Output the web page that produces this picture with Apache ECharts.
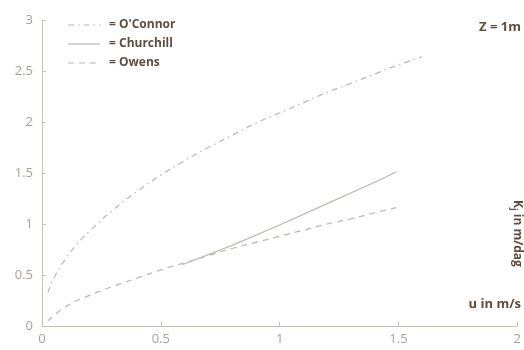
<!DOCTYPE html>
<html>
<head>
<meta charset="utf-8">
<script src="https://cdn.jsdelivr.net/npm/echarts@6/dist/echarts.min.js"></script>
<style>
  html, body { margin: 0; padding: 0; background: #fff; }
  #chart { width: 524px; height: 350px; }
</style>
</head>
<body>
<div id="chart"></div>
<script>
// Flow velocity u (m/s) against reaeration coefficient Kj (m/dag), depth Z = 1 m
const oconnorU = [0.025, 0.05, 0.1, 0.15, 0.2, 0.3, 0.4, 0.5, 0.6, 0.7, 0.8, 0.9, 1.0, 1.1, 1.2, 1.3, 1.4, 1.5, 1.6];
const oconnorK = [0.33, 0.47, 0.66, 0.81, 0.93, 1.14, 1.32, 1.48, 1.62, 1.75, 1.87, 1.99, 2.09, 2.19, 2.29, 2.38, 2.47, 2.56, 2.64];

const churchillU = [0.59, 0.8, 1.0, 1.2, 1.4, 1.49];
const churchillK = [0.6, 0.79, 0.99, 1.20, 1.41, 1.51];

const owensU = [0.025, 0.1, 0.2, 0.3, 0.4, 0.5, 0.6, 0.7, 0.8, 0.9, 1.0, 1.1, 1.2, 1.3, 1.4, 1.49];
const owensK = [0.05, 0.19, 0.30, 0.39, 0.47, 0.55, 0.62, 0.69, 0.76, 0.82, 0.88, 0.94, 1.00, 1.05, 1.11, 1.16];

const seriesNames = ["O'Connor", 'Churchill', 'Owens'];
const xTicks = ['0', '0.5', '1', '1.5', '2'];
const yTicks = ['0', '0.5', '1', '1.5', '2', '2.5', '3'];

const pairs = (xs, ys) => xs.map((x, i) => [x, ys[i]]);

const lineColor = '#bdb8b0';
const axisColor = '#cbbfb2';
const tickText = '#aaa198';
const darkText = '#5e4d3e';
const font = '"Open Sans", "DejaVu Sans", sans-serif';

const dashDot = [6, 4, 1.5, 4];
const dashed = [6, 5];

const chart = echarts.init(document.getElementById('chart'), null, { renderer: 'canvas' });

const legendRows = [
  { name: seriesNames[0], y: 25, dash: dashDot },
  { name: seriesNames[1], y: 44, dash: null },
  { name: seriesNames[2], y: 63, dash: dashed }
];

const legendGraphics = [];
legendRows.forEach(r => {
  legendGraphics.push({
    type: 'line',
    shape: { x1: 68, y1: r.y, x2: 100, y2: r.y },
    style: { stroke: lineColor, lineWidth: 1.2, lineDash: r.dash }
  });
  legendGraphics.push({
    type: 'text',
    x: 109, y: r.y,
    style: {
      text: '= ' + r.name,
      fill: darkText,
      font: 'bold 12px ' + font,
      textVerticalAlign: 'middle'
    }
  });
});

chart.setOption({
  animation: false,
  backgroundColor: '#ffffff',
  grid: { left: 42, right: 5, top: 20, bottom: 24 },
  xAxis: {
    type: 'value',
    min: 0, max: 2, interval: 0.5,
    axisLine: { lineStyle: { color: axisColor, width: 1 } },
    axisTick: { inside: true, length: 4, lineStyle: { color: axisColor } },
    splitLine: { show: false },
    axisLabel: {
      color: tickText, fontSize: 13, fontFamily: font, margin: 7,
      formatter: v => xTicks[Math.round(v / 0.5)]
    }
  },
  yAxis: {
    type: 'value',
    min: 0, max: 3, interval: 0.5,
    axisLine: { show: true, lineStyle: { color: axisColor, width: 1 } },
    axisTick: { show: true, inside: true, length: 4, lineStyle: { color: axisColor } },
    splitLine: { show: false },
    axisLabel: {
      color: tickText, fontSize: 13, fontFamily: font, margin: 9,
      formatter: v => yTicks[Math.round(v / 0.5)]
    }
  },
  series: [
    {
      name: seriesNames[0], type: 'line', smooth: true, showSymbol: false,
      data: pairs(oconnorU, oconnorK),
      lineStyle: { color: lineColor, width: 1.2, type: dashDot }
    },
    {
      name: seriesNames[1], type: 'line', smooth: false, showSymbol: false,
      data: pairs(churchillU, churchillK),
      lineStyle: { color: lineColor, width: 1.2, type: 'solid' }
    },
    {
      name: seriesNames[2], type: 'line', smooth: true, showSymbol: false,
      data: pairs(owensU, owensK),
      lineStyle: { color: lineColor, width: 1.2, type: dashed }
    }
  ],
  graphic: legendGraphics.concat([
    {
      type: 'text', x: 521, y: 27,
      style: {
        text: 'Z = 1m', fill: darkText, font: 'bold 13px ' + font,
        textAlign: 'right', textVerticalAlign: 'middle'
      }
    },
    {
      type: 'text', x: 521, y: 304,
      style: {
        text: 'u in m/s', fill: darkText, font: 'bold 13px ' + font,
        textAlign: 'right', textVerticalAlign: 'middle'
      }
    },
    {
      type: 'text', x: 517, y: 200, rotation: -Math.PI / 2,
      style: {
        text: '{k|K}{s|j}{k| in m/dag}',
        textVerticalAlign: 'middle',
        rich: {
          k: { fill: darkText, font: 'bold 12px ' + font },
          s: { fill: darkText, font: 'bold 9px ' + font, padding: [6, 0, 0, 0] }
        }
      }
    }
  ])
});
</script>
</body>
</html>
